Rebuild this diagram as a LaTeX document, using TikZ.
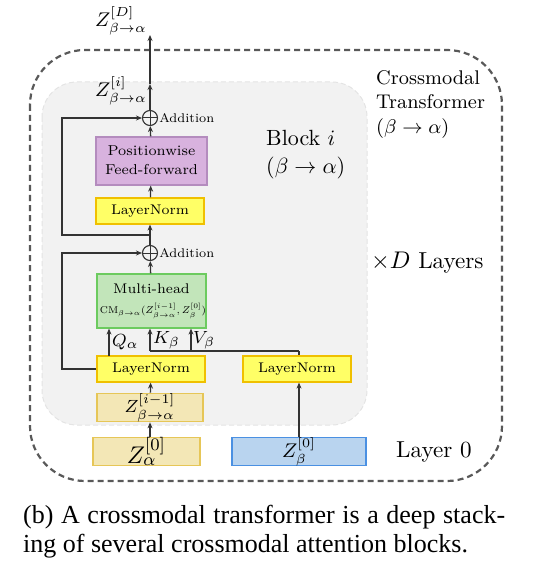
\documentclass[tikz,border=0pt]{standalone}
\usepackage{fontspec}
\usepackage{graphicx}
\newfontfamily\capfont{Liberation Serif}
\usetikzlibrary{arrows.meta}
\definecolor{pfill}{HTML}{D8B2DE}\definecolor{pdraw}{HTML}{B48CBE}
\definecolor{yfill}{HTML}{FFFF66}\definecolor{ydraw}{HTML}{F0C000}
\definecolor{gfill}{HTML}{C2E5BA}\definecolor{gdraw}{HTML}{6CCB5F}
\definecolor{wfill}{HTML}{F3E7B6}\definecolor{wdraw}{HTML}{E6C657}
\definecolor{bfill}{HTML}{B9D4EF}\definecolor{bdraw}{HTML}{4A90E2}
\definecolor{blkfill}{HTML}{F2F2F2}\definecolor{blkdraw}{HTML}{E4E4E4}
\definecolor{lnc}{HTML}{333333}
\newcommand\sx[4][2.2]{\scalebox{#1}{\fontsize{#2}{#3}\selectfont #4}}
\tikzset{
  box/.style={draw, line width=1.2pt, inner sep=0pt, align=center},
  lnbox/.style={box, fill=yfill, draw=ydraw, minimum width=108pt, minimum height=26pt},
  arr/.style={draw=lnc, line width=1.3pt, -{Stealth[length=6pt,width=5pt]}},
  ln/.style={draw=lnc, line width=1.3pt},
  lbl/.style={inner sep=1pt},
  addc/.style={circle, draw=lnc, line width=1.1pt, minimum size=15pt, inner sep=0pt,
    path picture={\draw[lnc, line width=1pt] (path picture bounding box.north) -- (path picture bounding box.south)
      (path picture bounding box.west) -- (path picture bounding box.east);}},
}
\begin{document}
\begin{tikzpicture}[x=1pt,y=-1pt]
\useasboundingbox (0,0) rectangle (538,585);
% outer and block frames
\draw[draw=black!65, line width=2.2pt, dash pattern=on 6pt off 4pt, rounded corners=55pt] (30,50) rectangle (502,481);
\draw[fill=blkfill, draw=blkdraw, line width=1pt, dash pattern=on 5pt off 3pt, rounded corners=35pt] (42,82) rectangle (367,425);
% nodes
\node[box, fill=pfill, draw=pdraw, minimum width=111pt, minimum height=48pt] (pff) at (151.5,161) {\sx[2.05]{7}{9.2}{\begin{tabular}{@{}c@{}}Positionwise\\Feed-forward\end{tabular}}};
\node[lnbox] (ln1) at (150,211) {\sx[2.0]{7}{8}{LayerNorm}};
\node[addc] (add1) at (150,118) {};
\node[addc] (add2) at (150,253) {};
\node[anchor=west, lbl] (addt1) at (add1.east) {\sx[1.8]{7}{8}{Addition}};
\node[anchor=west, lbl] (addt2) at (add2.east) {\sx[1.8]{7}{8}{Addition}};
\node[box, fill=gfill, draw=gdraw, minimum width=109pt, minimum height=54pt] (mh) at (151.5,301) {};
\node[lbl] (mht) at (151.5,289) {\sx[2.0]{7}{8}{Multi-head}};
\node[lbl] (cmt) at (153,311) {\sx[1.42]{7}{8}{$\mathrm{CM}_{\beta\rightarrow\alpha}(Z^{[i-1]}_{\beta\rightarrow\alpha},Z^{[0]}_{\beta})$}};
\node[lnbox] (ln0) at (151,369) {\sx[2.0]{7}{8}{LayerNorm}};
\node[lnbox] (ln3) at (297,369) {\sx[2.0]{7}{8}{LayerNorm}};
\node[box, fill=wfill, draw=wdraw, minimum width=106pt, minimum height=27pt] (zim) at (150,407.5) {\sx{8}{9}{$Z^{[i-1]}_{\beta\rightarrow\alpha}$}};
\node[box, fill=wfill, draw=wdraw, minimum width=107pt, minimum height=27pt] (za) at (146.5,451.5) {\sx{11}{12}{$Z^{[0]}_{\alpha}$}};
\node[box, fill=bfill, draw=bdraw, minimum width=134pt, minimum height=27pt] (zb) at (299,451.5) {\sx{9}{10}{$Z^{[0]}_{\beta}$}};
% coordinates
\coordinate (zi) at (150,84);
\coordinate (zD) at (150,35);
\coordinate (br1) at (150,235);
\coordinate (lp1) at (62,235);
\coordinate (lp2) at (62,369);
\coordinate (kv) at (299,351);
\coordinate (kx) at (150,351);
\coordinate (vx) at (191,351);
\coordinate (qx) at (109,356);
% labels
\node[lbl, anchor=east] (lzD) at (148,21) {\sx{9}{10}{$Z^{[D]}_{\beta\rightarrow\alpha}$}};
\node[lbl, anchor=east] (lzi) at (148,91) {\sx{9}{10}{$Z^{[i]}_{\beta\rightarrow\alpha}$}};
\node[lbl, anchor=west] (lq) at (111,342) {\sx{8.5}{9}{$Q_\alpha$}};
\node[lbl, anchor=west] (lk) at (152,340) {\sx{8.5}{9}{$K_\beta$}};
\node[lbl, anchor=west] (lv) at (192,340) {\sx{8.5}{9}{$V_\beta$}};
\node[lbl, anchor=west] (blk) at (265,154) {\sx{10}{12.5}{\begin{tabular}{@{}l@{}}Block $i$\\$(\beta\rightarrow\alpha)$\end{tabular}}};
\node[lbl, anchor=west] (ct) at (375,104) {\sx{9}{11.3}{\begin{tabular}{@{}l@{}}Crossmodal\\Transformer\\$(\beta\rightarrow\alpha)$\end{tabular}}};
\node[lbl, anchor=west] (xd) at (370,263) {\sx{10.5}{12}{$\times D$ Layers}};
\node[lbl, anchor=west] (l0) at (395,452) {\sx{10.5}{12}{Layer 0}};
\node[anchor=north west, align=left, inner sep=0pt, font=\capfont\fontsize{26}{29}\selectfont] (cap) at (23,505) {\makebox[482pt][s]{(b) A crossmodal transformer is a deep stack-}\\ing of several crossmodal attention blocks.};
% connectors
\draw[arr] (add1) -- (zi);
\draw[arr] (zi) -- (zD);
\draw[arr] (pff) -- (add1);
\draw[arr] (ln1) -- (pff);
\draw[arr] (add2) -- (ln1);
\draw[arr] (br1) -- (lp1) |- (add1);
\draw[arr] (mh) -- (add2);
\draw[arr] (ln0) -- (lp2) |- (add2);
\draw[arr] (qx) -- (qx |- mh.south);
\draw[ln] (kv) -- (kx);
\draw[arr] (kx) -- (kx |- mh.south);
\draw[arr] (vx) -- (vx |- mh.south);
\draw[ln] (kv) -- (kv |- ln3.north);
\draw[arr] (zim) -- (ln0);
\draw[arr] (za.north -| zim.south) -- (zim);
\draw[arr] (zb.north -| kv) -- (kv |- ln3.south);
\end{tikzpicture}
\end{document}
